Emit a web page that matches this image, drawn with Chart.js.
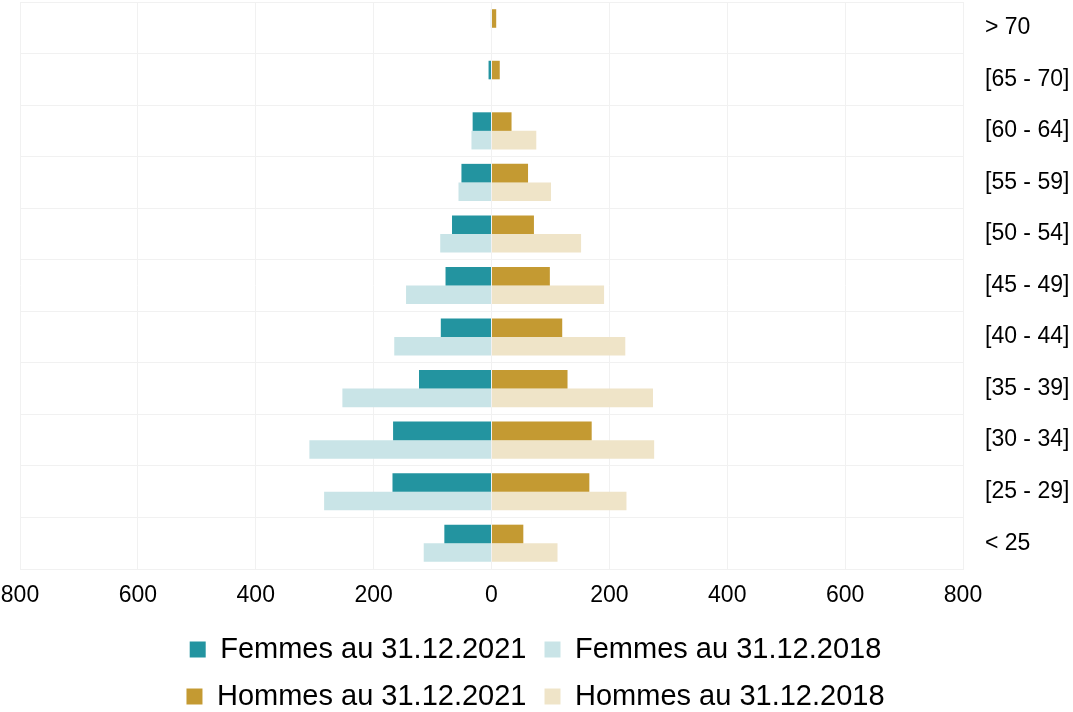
<!DOCTYPE html>
<html>
<head>
<meta charset="utf-8">
<script src="https://cdn.jsdelivr.net/npm/chart.js@4"></script>
<style>
  body { margin: 0; background: #fff; }
</style>
</head>
<body>
<canvas id="pyramide" width="1073" height="712"></canvas>
<script>
// tranches d'age, du haut vers le bas
const ages = ['> 70', '[65 - 70]', '[60 - 64]', '[55 - 59]', '[50 - 54]', '[45 - 49]',
  '[40 - 44]', '[35 - 39]', '[30 - 34]', '[25 - 29]', '< 25'];

// femmes en negatif (cote gauche)
const femmes2021 = [-1, -5, -32, -51, -67, -78, -86, -123, -167, -168, -80];
const femmes2018 = [0, 0, -34, -56, -87, -145, -165, -253, -309, -284, -115];
const hommes2021 = [8, 14, 34, 62, 72, 99, 120, 129, 170, 166, 54];
const hommes2018 = [0, 0, 76, 101, 152, 191, 227, 274, 276, 229, 112];

const xTicks = [-800, -600, -400, -200, 0, 200, 400, 600, 800];

Chart.defaults.font.family = '"Liberation Sans", Arial, sans-serif';
Chart.defaults.color = '#000';

const gridColor = '#f1f1f1';

var ctx = document.getElementById('pyramide');
var chart = new Chart(ctx, {
  type: 'bar',
  data: {
    labels: ages,
    datasets: [{
      label: 'Femmes au 31.12.2021',
      data: femmes2021,
      backgroundColor: '#2394a0',
      stack: '2021'
    }, {
      label: 'Femmes au 31.12.2018',
      data: femmes2018,
      backgroundColor: '#c9e4e7',
      stack: '2018'
    }, {
      label: 'Hommes au 31.12.2021',
      data: hommes2021,
      backgroundColor: '#c49a32',
      stack: '2021'
    }, {
      label: 'Hommes au 31.12.2018',
      data: hommes2018,
      backgroundColor: '#efe4c8',
      stack: '2018'
    }]
  },
  options: {
    indexAxis: 'y',
    responsive: false,
    animation: false,
    categoryPercentage: 0.72,
    barPercentage: 1.0,
    layout: { padding: { top: 2, right: 2, bottom: -9 } },
    scales: {
      x: {
        stacked: true,
        min: -800,
        max: 800,
        afterBuildTicks: axis => { axis.ticks = xTicks.map(v => ({ value: v })); },
        grid: { color: gridColor, drawTicks: false },
        border: { color: gridColor },
        ticks: {
          padding: 13,
          font: { size: 23 },
          callback: v => Math.abs(v)
        },
        afterFit: axis => {
          axis.height = 48;
          axis.paddingLeft = 20;
          axis.paddingRight = 0;
        }
      },
      y: {
        stacked: true,
        position: 'right',
        grid: { color: gridColor, offset: true, drawTicks: false },
        border: { color: gridColor },
        ticks: {
          padding: 22,
          font: { size: 23 }
        },
        afterFit: axis => {
          // largeur fixe, pas de marge haute/basse
          axis.width = 108;
          axis.paddingTop = 0;
          axis.paddingBottom = 0;
        }
      }
    },
    plugins: {
      legend: {
        position: 'bottom',
        labels: {
          boxWidth: 16,
          boxHeight: 16,
          padding: 18,
          font: { size: 29 }
        }
      },
      tooltip: { enabled: false }
    }
  }
});
</script>
</body>
</html>
